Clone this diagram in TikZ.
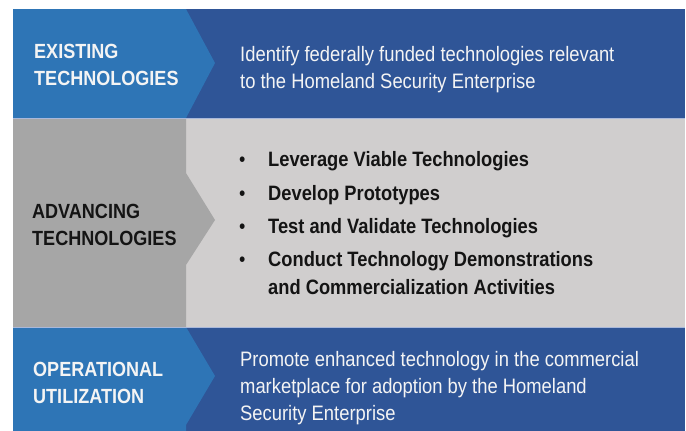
\documentclass[tikz,border=0pt]{standalone}
\usepackage{fontspec}
\setmainfont{Liberation Sans}[FakeStretch=0.88]
\usetikzlibrary{positioning}

\definecolor{lblue}{HTML}{2E75B6}
\definecolor{dblue}{HTML}{2F5597}
\definecolor{dgray}{HTML}{A6A6A6}
\definecolor{lgray}{HTML}{D0CECE}
\definecolor{sepline}{HTML}{A9B8DA}
\definecolor{darktext}{HTML}{141414}
\definecolor{whitetext}{HTML}{F4F4F4}

\begin{document}
\begin{tikzpicture}[x=1pt,y=-1pt,
		lbl/.style={anchor=base west,inner sep=0pt,align=left,
			font=\bfseries\fontsize{20.5}{27}\selectfont},
		desc/.style={anchor=base west,inner sep=0pt,align=left,text=whitetext,
			font=\fontsize{20.9}{27}\selectfont},
		item/.style={anchor=base west,inner sep=0pt,align=left,text=darktext,
			font=\bfseries\fontsize{20.8}{28}\selectfont},
		bul/.style={anchor=base west,inner sep=0pt,text=darktext,
			font=\fontsize{20.5}{28}\selectfont},
		sep/.style={draw=sepline,line width=1pt}]
	\useasboundingbox[fill=white] (0,0) rectangle (686,431);
	% top band
	\fill[dblue] (186,9) rectangle (685,118);
	\fill[lblue] (13,9) -- (186,9) -- (215,63) -- (186,118) -- (13,118) -- cycle;
	% middle band
	\fill[lgray] (186,118) rectangle (685,327);
	\fill[dgray] (13,118) -- (186,118) -- (186,173) -- (215,220) -- (186,265)
		-- (186,327) -- (13,327) -- cycle;
	% bottom band
	\fill[dblue] (186,327) rectangle (685,431);
	\fill[lblue] (13,327) -- (186,327) -- (215,376) -- (186,425) -- (186,431)
		-- (13,431) -- cycle;
	\draw[sep] (13,118) -- (685,118);
	\draw[sep] (13,327) -- (685,327);

	% base anchor = baseline of the last line
	\node[lbl,text=whitetext] (exist) at (34,85) {EXISTING\\TECHNOLOGIES};
	\node[desc] (existtxt) at (240,88)
		{Identify federally funded technologies relevant\\to the Homeland Security Enterprise};

	\node[lbl,text=darktext] (adv) at (32,245) {ADVANCING\\TECHNOLOGIES};
	\foreach \y/\t [count=\i] in {166/Leverage Viable Technologies,
			200/Develop Prototypes,
			233/Test and Validate Technologies,
			294/{Conduct Technology Demonstrations\\and Commercialization Activities}}{
		\node[item] (it\i) at (268,\y) {\t};
	}
	\foreach \y [count=\i] in {166,200,233,266}
		\node[bul] (b\i) at (239,\y) {\textbullet};

	\node[lbl,text=whitetext] (oper) at (33,403) {OPERATIONAL\\UTILIZATION};
	\node[desc] (opertxt) at (240,420)
		{Promote enhanced technology in the commercial\\marketplace for adoption by the Homeland\\Security Enterprise};
\end{tikzpicture}
\end{document}
